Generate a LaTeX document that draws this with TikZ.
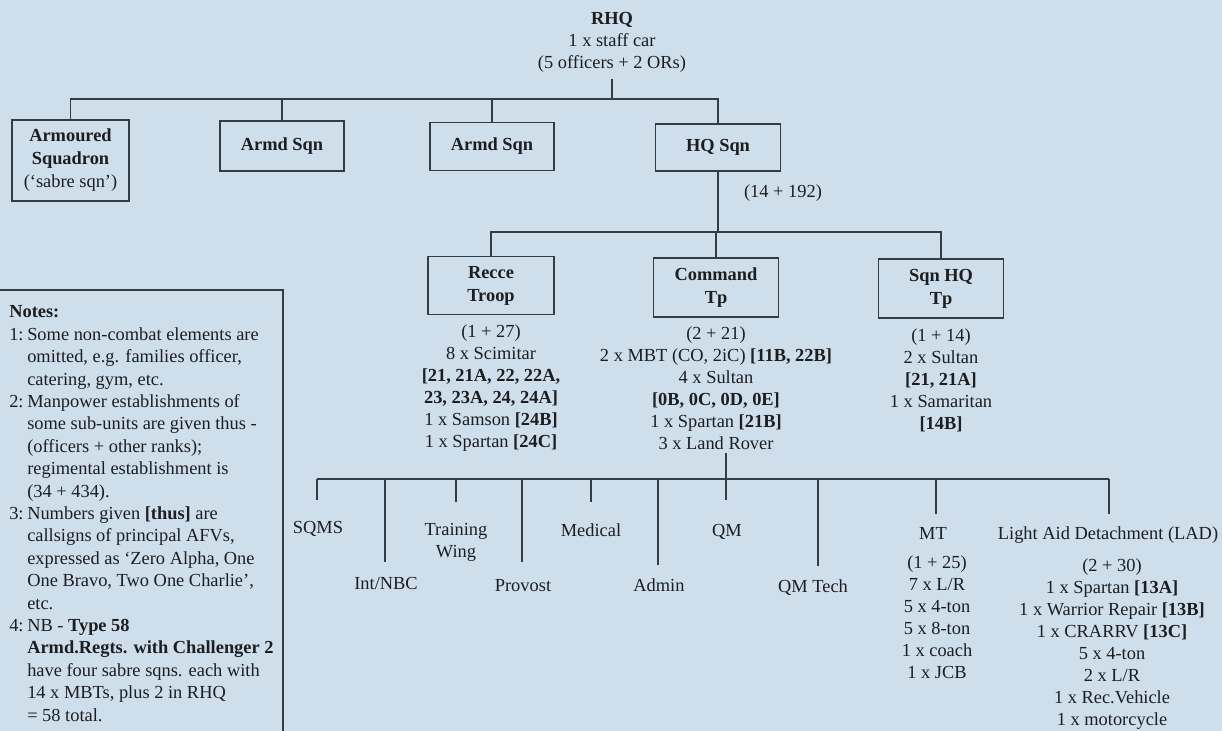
\documentclass[tikz,border=0pt]{standalone}
\usepackage{fontspec}
\setmainfont{Liberation Serif}
\definecolor{bgc}{RGB}{206,222,234}
\definecolor{ink}{RGB}{28,30,34}
\definecolor{linec}{RGB}{50,60,70}
\newcommand\notenum[1]{\makebox[13.5pt][l]{#1}}
\newcommand\noteind{\hspace*{13.5pt}}
\begin{document}
\begin{tikzpicture}[x=0.75pt,y=-0.75pt,
  every node/.style={text=ink, font=\fontsize{13.8}{16.5}\selectfont},
  box/.style={draw=linec, line width=1pt, inner sep=0pt, align=center,
    font=\fontsize{13.8}{17.25}\selectfont\bfseries},
  lbl/.style={anchor=base, align=center, inner sep=0pt},
  conn/.style={draw=linec, line width=1pt},
]
\useasboundingbox (0,0) rectangle (1222,731);
\fill[bgc] (0,0) rectangle (1222,731);

% top level (base anchor = baseline of the last line)
\node[lbl] (rhq) at (612,69) {\textbf{RHQ}\\1 x staff car\\(5 officers + 2 ORs)};

\node[box, minimum width=87.75pt, minimum height=60.75pt] (armd) at (70.5,160.5)
  {Armoured\\Squadron\\{\mdseries (‘sabre sqn’)}};
\node[box, minimum width=93pt, minimum height=37.5pt] (as1) at (282,146) {Armd Sqn};
\node[box, minimum width=93pt, minimum height=36pt] (as2) at (492,146.5) {Armd Sqn};
\node[box, minimum width=93.75pt, minimum height=35.25pt] (hq) at (718,147.5) {HQ Sqn};
\node[lbl] (hqn) at (783,198) {(14 + 192)};

\coordinate (bus1) at (612,99);
\draw[conn, shorten <=4pt] (rhq.south) -- (bus1);
\draw[conn] (armd.north) |- (bus1) -| (hq.north);
\draw[conn] (as1.north) -- (as1.north |- bus1);
\draw[conn] (as2.north) -- (as2.north |- bus1);

% second level
\node[box, minimum width=94.5pt, minimum height=43.5pt] (recce) at (491,285.5) {Recce\\Troop};
\node[box, minimum width=93.75pt, minimum height=44.25pt] (cmd) at (716,287.5) {Command\\Tp};
\node[box, minimum width=93.75pt, minimum height=44.25pt] (sqnhq) at (941,288.5) {Sqn HQ\\Tp};

\coordinate (bus2) at (717,232);
\draw[conn] (hq.south) -- (hq.south |- bus2);
\draw[conn] (recce.north) |- (bus2) -| (sqnhq.north);
\draw[conn] (cmd.north) -- (cmd.north |- bus2);

\node[lbl] (recl) at (491,447) {(1 + 27)\\8 x Scimitar\\\textbf{[21, 21A, 22, 22A,}\\\textbf{23, 23A, 24, 24A]}\\1 x Samson \textbf{[24B]}\\1 x Spartan \textbf{[24C]}};
\node[lbl] (cmdl) at (716,449) {(2 + 21)\\2 x MBT (CO, 2iC) \textbf{[11B, 22B]}\\4 x Sultan\\\textbf{[0B, 0C, 0D, 0E]}\\1 x Spartan \textbf{[21B]}\\3 x Land Rover};
\node[lbl] (sqnl) at (941,429) {(1 + 14)\\2 x Sultan\\\textbf{[21, 21A]}\\1 x Samaritan\\\textbf{[14B]}};

% third level
\coordinate (bus3) at (726,479);
\draw[conn, shorten <=3pt] (cmdl.south -| bus3) -- (bus3);
\foreach \n/\x/\y in {sqms/317/500, intnbc/385/562, train/456/502, provost/522/562,
  medical/591/502, admin/658/565, qm/726/500, qmtech/818/566, mt/936/514, lad/1109/514}{
  \coordinate (d\n) at (\x,\y);
  \draw[conn] (d\n |- bus3) -- (d\n);
}
\draw[conn] (dsqms |- bus3) -- (dlad |- bus3);

\node[lbl] (sqms) at (318,533) {SQMS};
\node[lbl] (intnbc) at (386,589) {Int/NBC};
\node[lbl] (train) at (456,557) {Training\\Wing};
\node[lbl] (provost) at (523,591) {Provost};
\node[lbl] (medical) at (591,536) {Medical};
\node[lbl] (admin) at (659,591) {Admin};
\node[lbl] (qm) at (727,536) {QM};
\node[lbl] (qmtech) at (813,592) {QM Tech};
\node[lbl] (mt) at (933,539) {MT};
\node[lbl] (mtl) at (937,678) {(1 + 25)\\7 x L/R\\5 x 4-ton\\5 x 8-ton\\1 x coach\\1 x JCB};
\node[lbl] (lad) at (1108,539) {Light Aid Detachment (LAD)};
\node[lbl] (ladl) at (1112,725) {(2 + 30)\\1 x Spartan \textbf{[13A]}\\1 x Warrior Repair \textbf{[13B]}\\1 x CRARRV \textbf{[13C]}\\5 x 4-ton\\2 x L/R\\1 x Rec.Vehicle\\1 x motorcycle};

% notes
\draw[conn] (-5,290) rectangle (283,740);
\node[anchor=base west, align=left, inner sep=0pt, font=\fontsize{13.8}{16.8}\selectfont] (notes) at (9,721)
{\textbf{Notes:}\\
\notenum{1:}Some non-combat elements are\\
\noteind omitted, e.g. families officer,\\
\noteind catering, gym, etc.\\
\notenum{2:}Manpower establishments of\\
\noteind some sub-units are given thus -\\
\noteind (officers + other ranks);\\
\noteind regimental establishment is\\
\noteind (34 + 434).\\
\notenum{3:}Numbers given \textbf{[thus]} are\\
\noteind callsigns of principal AFVs,\\
\noteind expressed as ‘Zero Alpha, One\\
\noteind One Bravo, Two One Charlie’,\\
\noteind etc.\\
\notenum{4:}NB - \textbf{Type 58}\\
\noteind \textbf{Armd.Regts. with Challenger 2}\\
\noteind have four sabre sqns. each with\\
\noteind 14 x MBTs, plus 2 in RHQ\\
\noteind = 58 total.};
\end{tikzpicture}
\end{document}
